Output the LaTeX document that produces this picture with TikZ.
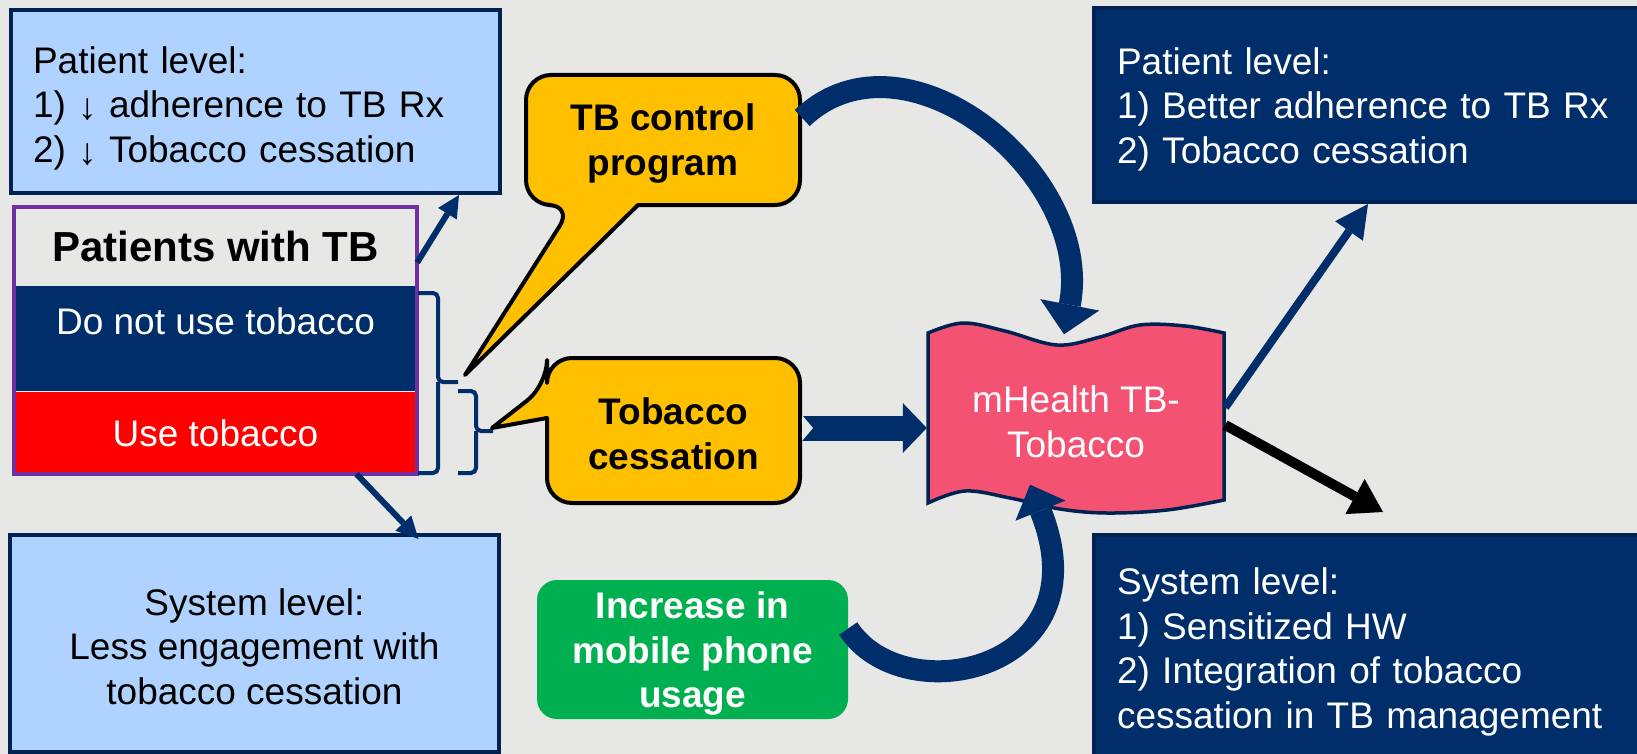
\documentclass[tikz,border=0pt]{standalone}
\usepackage{fontspec}
\setmainfont{Liberation Sans}
\usetikzlibrary{arrows.meta}
\usetikzlibrary{positioning}
\definecolor{bgc}{RGB}{231,231,229}
\definecolor{lblue}{RGB}{175,210,254}
\definecolor{navyc}{RGB}{0,46,106}
\definecolor{navyd}{RGB}{0,34,82}
\definecolor{purpc}{RGB}{112,48,160}
\definecolor{yellc}{RGB}{255,192,0}
\definecolor{grnc}{RGB}{0,176,80}
\definecolor{pinkc}{RGB}{244,82,114}
\newcommand{\boxfont}{\fontsize{37}{44.5}\selectfont}
\newcommand{\firstline}[1]{\rule{0pt}{#1}}
\newcommand{\dnarrow}{\raisebox{-2pt}{↓}}
\tikzset{Box/.style={rectangle, draw=navyd, line width=4, fill=#1, inner xsep=22pt, inner ysep=0pt, font=\boxfont}}

\begin{document}
\begin{tikzpicture}[x=1pt, y=-1pt, Sect/.style={rectangle, fill=#1, text=white, minimum width=403pt, inner sep=0pt, font=\boxfont}, Bubble/.style={draw=black, fill=yellc, line width=4, line join=round}, Link/.style={navyc, line width=#1}]
        \useasboundingbox (0,0) rectangle (1637,754);
        \clip (0,0) rectangle (1637,754);
        \fill[bgc] (0,0) rectangle (1637,754);

        \node[Box=lblue, text width=445pt, minimum height=183pt, align=left] (plb) at (255.5,101.5){\firstline{40pt}Patient level:\\1) \dnarrow{} adherence to TB Rx\\2) \dnarrow{} Tobacco cessation};
        \node[Box=lblue, minimum width=489pt, minimum height=217pt, align=center] (slb) at (254.5,643.5){\firstline{32.5pt}System level:\\Less engagement with\\tobacco cessation};
        \node[Box=navyc, text=white, text width=520pt, inner xsep=23pt, minimum height=194pt, align=left] (prt) at (1377,105){\firstline{35.5pt}Patient level:\\1) Better adherence to TB Rx\\2) Tobacco cessation};
        \node[Box=navyc, text=white, text width=520pt, inner xsep=23pt, minimum height=229pt, align=left] (srb) at (1377,649.5){\firstline{31.5pt}System level:\\1) Sensitized HW\\2) Integration of tobacco\\cessation in TB management};

        \node[Sect=bgc, text=black, minimum height=79pt, font={\fontsize{42}{50}\selectfont\bfseries}] (ptbh) at (215.5,246.5){Patients with TB};
        \node[Sect=navyc, minimum height=105pt, text depth=35pt, below=0pt of ptbh] (nouse){Do not use tobacco};
        \node[Sect=red, minimum height=82pt, below=0pt of nouse] (use){Use tobacco};
        \draw[purpc, line width=3.5] (ptbh.north west) rectangle (use.south east);

        \draw[navyc, line width=4, rounded corners=5] (418,293) -- (438,293) -- (438,382) -- (458,382) (438,382) -- (438,473) -- (418,473);
        \draw[navyc, line width=4, rounded corners=5] (458,391) -- (476,391) -- (476,431) -- (493,431) (476,431) -- (476,473) -- (458,473);

        \draw[Bubble] (700,75) [rounded corners=25] -- (526,75) -- (526,205) -- (573,205) [sharp corners] -- (465,375) -- (638,205) -- (660,205) [rounded corners=25] -- (800,205) -- (800,75) -- cycle;
        \node[minimum width=274pt, minimum height=130pt, font={\boxfont\bfseries}, align=center] (tbc) at (663,140){\firstline{33.5pt}TB control\\program};
        \draw[Bubble] (700,358) [rounded corners=25] -- (547,358) -- (547,385) [sharp corners] -- (492,428) -- (547,418) -- (547,440) [rounded corners=25] -- (547,503) -- (800,503) -- (800,358) -- cycle;
        \node[minimum width=253pt, minimum height=145pt, font={\boxfont\bfseries}, align=center] (tcs) at (673.5,430.5){\firstline{33.5pt}Tobacco\\cessation};

        \node[rectangle, rounded corners=20, fill=grnc, text=white, font={\boxfont\bfseries}, align=center, minimum width=311pt, minimum height=135pt] (mob) at (692.5,649.5){\firstline{35.5pt}Increase in\\mobile phone\\usage};

        \draw[navyd, line width=3.5, fill=pinkc] plot[smooth, tension=0.6] coordinates {(928,333) (963,323) (1005,331) (1057,345) (1100,337) (1140,325) (1185,326) (1224,333)} -- plot[smooth, tension=0.6] coordinates {(1224,500) (1167,510) (1107,513) (1060,509) (1010,498) (965,491) (928,503)} -- cycle;
        \node[minimum width=298pt, minimum height=170pt, text=white, font=\boxfont, align=center] (mh) at (1076,419.5){\firstline{31.5pt}mHealth TB-\\Tobacco};

        \draw[Link=22, -{Triangle[length=30pt, width=60pt, line width=0pt]}] ([shift={(2pt,22pt)}]tbc.east) .. controls +(103,-98) and +(31,-159.5) .. ([xshift=-12pt]mh.north);
        \draw[Link=22, -{Triangle[length=28pt, width=54pt, line width=0pt]}] ([yshift=21pt]mob.east) .. controls +(55,85) and +(75,186) .. ([shift={(-46pt,20pt)}]mh.south);
        \draw[Link=25, -{Triangle[length=24pt, width=50pt, line width=0pt]}] ([shift={(2pt,2.5pt)}]tcs.east) -- ([yshift=-8.5pt]mh.west);
        \fill[bgc] (802,415) -- (813,428) -- (802,441) -- cycle;

        \draw[Link=6, -{Triangle[length=22pt, width=22pt, line width=0pt]}] ([yshift=-16pt]ptbh.east) -- ([xshift=-43pt]plb.south east);
        \draw[Link=6, -{Triangle[length=22pt, width=22pt, line width=0pt]}] ([xshift=141pt]use.south) -- ([shift={(164pt,-6pt)}]slb.north);
        \draw[Link=8, -{Triangle[length=33pt, width=34pt, line width=0pt]}] ([yshift=12pt]mh.east) -- ([xshift=-9pt]prt.south);
        \draw[line width=10, -{Triangle[length=32pt, width=40pt, line width=0pt]}] ([yshift=-5.5pt]mh.east) -- ([shift={(6pt,21pt)}]srb.north);
    \end{tikzpicture}
\end{document}
